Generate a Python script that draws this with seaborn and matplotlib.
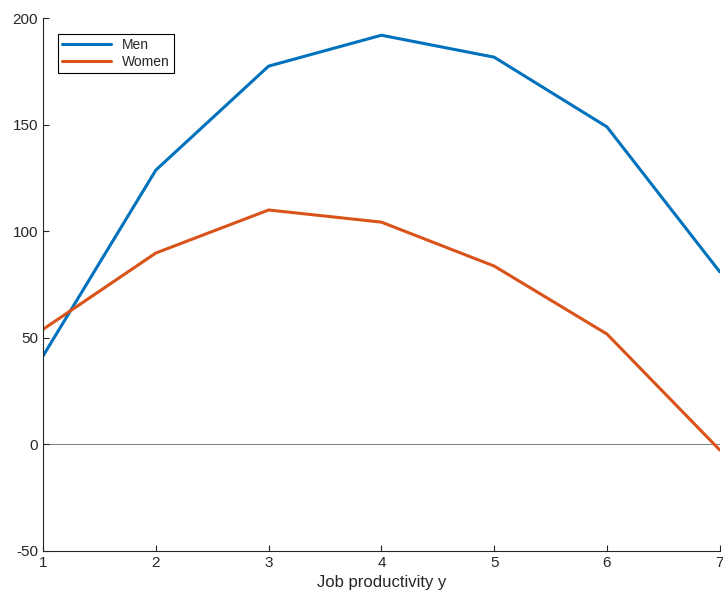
import numpy as np
import matplotlib
matplotlib.use("Agg")
import matplotlib.pyplot as plt
import seaborn as sns
import pandas as pd

sns.set_style("ticks")
plt.rcParams['font.family'] = ['Liberation Sans', 'DejaVu Sans']
plt.rcParams['axes.unicode_minus'] = False

productivity = [1, 2, 3, 4, 5, 6, 7]
men = [41.5, 128.7, 177.5, 192, 181.7, 149, 81]
women = [54, 89.8, 110, 104.3, 83.7, 51.8, -2.6]

df = pd.DataFrame({"y": productivity * 2,
                   "value": men + women,
                   "group": ["Men"] * 7 + ["Women"] * 7})

fig = plt.figure(figsize=(7.23, 5.98), dpi=100)
ax = fig.add_axes([0.0595, 0.0786, 0.936, 0.891])
sns.lineplot(data=df, x="y", y="value", hue="group",
             palette=["#0072BD", "#D95319"], linewidth=2.2, ax=ax)
ax.axhline(0, color="gray", linewidth=0.7, zorder=0)
ax.set_xlim(1, 7)
ax.set_ylim(-50, 200)
ax.set_xticks(productivity)
ax.set_yticks([-50, 0, 50, 100, 150, 200])
ax.set_xlabel("Job productivity y", fontsize=12)
ax.set_ylabel("")
ax.tick_params(direction="in", labelsize=11, length=4)
for s in ["top", "right"]:
    ax.spines[s].set_visible(False)
leg = ax.legend(loc="upper left", bbox_to_anchor=(0.012, 0.983), fontsize=10,
                fancybox=False, edgecolor="black", framealpha=1, handlelength=3.5,
                borderpad=0.3, labelspacing=0.2)
leg.get_frame().set_linewidth(0.8)
fig.savefig("out.png", dpi=100)
